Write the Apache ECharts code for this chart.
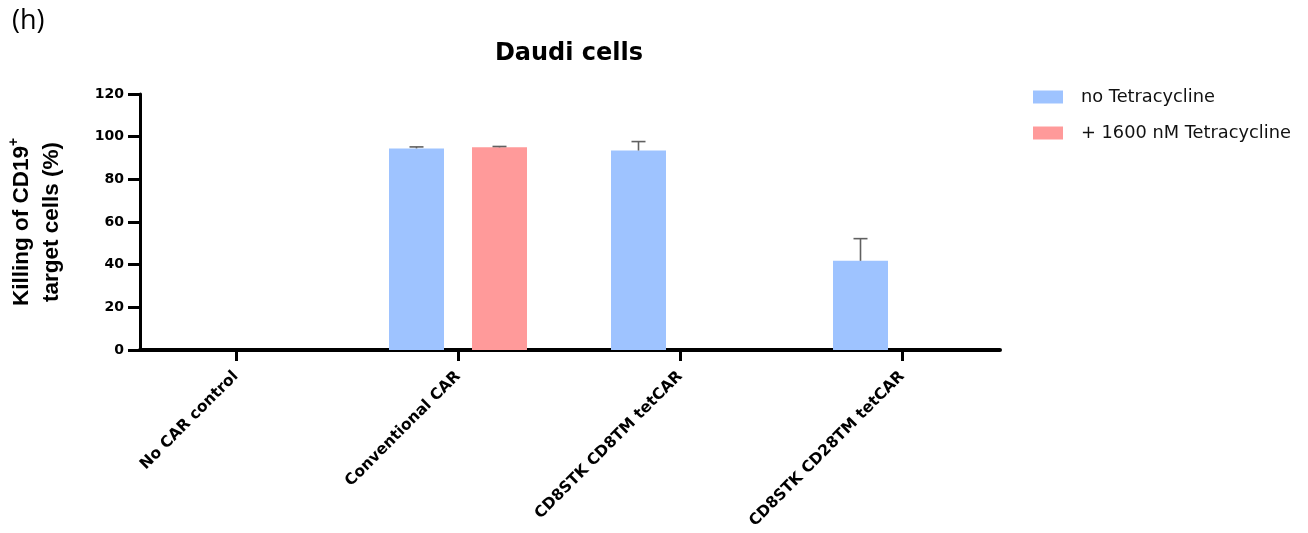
<!DOCTYPE html>
<html>
<head>
<meta charset="utf-8">
<script src="https://cdn.jsdelivr.net/npm/echarts@6/dist/echarts.min.js"></script>
<style>
  html, body { margin: 0; padding: 0; background: #fff; }
  #chart { width: 1308px; height: 533px; }
</style>
</head>
<body>
<div id="chart"></div>
<script>
// Killing of CD19+ Daudi target cells per CAR construct
const categories = ['No CAR control', 'Conventional CAR', 'CD8STK CD8TM tetCAR', 'CD8STK CD28TM tetCAR'];
const noTetMean = [0, 94.5, 93.5, 41.8];
const noTetErr = [0, 0.7, 4.2, 10.4];
const tetMean = [0, 95.0, null, null];
const tetErr = [0, 0.4, null, null];
const yTicks = [0, 20, 40, 60, 80, 100, 120];

const seriesNames = ['no Tetracycline', '+ 1600 nM Tetracycline'];
const BLUE = '#9EC3FF';
const RED = '#FF9A9A';
const BAR_W = 55;
const BAR_GAP = 28;
const WIDE = '"DejaVu Sans", sans-serif';
const NARROW = '"Liberation Sans", Arial, sans-serif';

function errorSeries(means, errs, side, color) {
  const data = means.map((m, i) => (m == null || !errs[i]) ? null : [i, m, m + errs[i]]).filter(d => d);
  return {
    type: 'custom',
    xAxisIndex: 0,
    yAxisIndex: 0,
    z: 5,
    silent: true,
    data: data,
    renderItem: function (params, api) {
      const cat = api.value(0);
      const lo = api.coord([cat, api.value(1)]);
      const hi = api.coord([cat, api.value(2)]);
      const x = lo[0] + side * (BAR_W + BAR_GAP) / 2;
      const cap = 7;
      const st = { stroke: color, lineWidth: 1.6 };
      return {
        type: 'group',
        children: [
          { type: 'line', shape: { x1: x, y1: lo[1], x2: x, y2: hi[1] }, style: st },
          { type: 'line', shape: { x1: x - cap, y1: hi[1], x2: x + cap, y2: hi[1] }, style: st }
        ]
      };
    }
  };
}

const chart = echarts.init(document.getElementById('chart'));
chart.setOption({
  animation: false,
  backgroundColor: '#fff',
  title: {
    text: 'Daudi cells',
    left: 569,
    textAlign: 'center',
    top: 42,
    padding: 0,
    textStyle: { fontFamily: WIDE, fontSize: 24, fontWeight: 'bold', color: '#000' }
  },
  graphic: [{
    type: 'text',
    left: 12,
    top: 8,
    style: { text: '(h)', font: '27px "Open Sans", "DejaVu Sans", sans-serif', fill: '#000' }
  }],
  legend: {
    orient: 'vertical',
    left: 1033,
    top: 88,
    padding: 0,
    itemWidth: 30,
    itemHeight: 13,
    itemGap: 18,
    icon: 'rect',
    data: seriesNames,
    textStyle: { fontFamily: WIDE, fontSize: 17.8, color: '#111', padding: [0, 0, 0, 13] }
  },
  grid: [
    { left: 125, right: 295, top: 94, bottom: 183, outerBoundsMode: 'none' },
    { left: 140, right: 308, top: 94, bottom: 183, outerBoundsMode: 'none' }
  ],
  xAxis: [
    {
      type: 'category',
      gridIndex: 0,
      data: categories,
      axisLine: { show: false },
      axisTick: { show: true, alignWithLabel: true, length: 11, lineStyle: { color: '#000', width: 3 } },
      axisLabel: {
        rotate: 45,
        margin: 24,
        fontFamily: WIDE,
        fontSize: 15.5,
        fontWeight: 'bold',
        color: '#000'
      }
    },
    {
      type: 'value',
      gridIndex: 1,
      min: 0,
      max: 1,
      axisLine: { show: true, onZero: false, lineStyle: { color: '#000', width: 4 } },
      axisTick: { show: false },
      axisLabel: { show: false },
      splitLine: { show: false }
    }
  ],
  yAxis: [
    {
      type: 'value',
      gridIndex: 0,
      min: 0,
      max: 120,
      show: false
    },
    {
      type: 'value',
      gridIndex: 1,
      min: 0,
      max: 120,
      interval: 20,
      name: '{a|Killing of CD19}{s|+}\n{a|target cells (%)}',
      nameLocation: 'middle',
      nameGap: 73,
      nameTextStyle: {
        rich: {
          a: { fontFamily: NARROW, fontSize: 22.5, fontWeight: 'bold', color: '#000', lineHeight: 30 },
          s: { fontFamily: NARROW, fontSize: 14, fontWeight: 'bold', color: '#000', verticalAlign: 'top', lineHeight: 30, padding: [0, 0, 10, 0] }
        }
      },
      axisLine: { show: true, lineStyle: { color: '#000', width: 3 } },
      axisTick: { show: true, length: 12, lineStyle: { color: '#000', width: 3 } },
      axisLabel: {
        margin: 16,
        fontFamily: WIDE,
        fontSize: 14,
        fontWeight: 'bold',
        color: '#000',
        formatter: v => yTicks.includes(v) ? String(v) : ''
      },
      splitLine: { show: false }
    }
  ],
  series: [
    {
      name: seriesNames[0],
      type: 'bar',
      xAxisIndex: 0,
      yAxisIndex: 0,
      data: noTetMean,
      barWidth: BAR_W,
      barGap: (BAR_GAP / BAR_W * 100) + '%',
      itemStyle: { color: BLUE }
    },
    {
      name: seriesNames[1],
      type: 'bar',
      xAxisIndex: 0,
      yAxisIndex: 0,
      data: tetMean,
      barWidth: BAR_W,
      barGap: (BAR_GAP / BAR_W * 100) + '%',
      itemStyle: { color: RED }
    },
    errorSeries(noTetMean, noTetErr, -1, '#606060'),
    errorSeries(tetMean, tetErr, 1, '#606060')
  ]
});
</script>
</body>
</html>
